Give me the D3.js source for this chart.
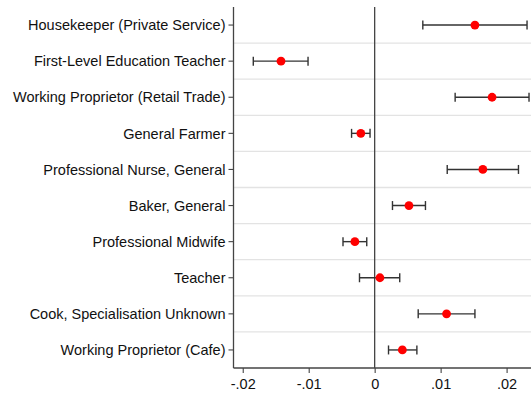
<!DOCTYPE html>
<html>
<head>
<meta charset="utf-8">
<script src="https://cdn.jsdelivr.net/npm/d3@7"></script>
<style>
  html, body { margin: 0; padding: 0; background: #fff; }
  svg { display: block; font-family: "Liberation Sans", Arial, Helvetica, sans-serif; }
</style>
</head>
<body>
<svg id="chart" width="531" height="399"></svg>
<script>
// Occupations, top to bottom
const occupations = [
  "Housekeeper (Private Service)",
  "First-Level Education Teacher",
  "Working Proprietor (Retail Trade)",
  "General Farmer",
  "Professional Nurse, General",
  "Baker, General",
  "Professional Midwife",
  "Teacher",
  "Cook, Specialisation Unknown",
  "Working Proprietor (Cafe)"
];
// Point estimates and confidence bounds
const estimates = [0.0152, -0.0142, 0.0178, -0.0021, 0.0164, 0.0052, -0.0030, 0.0008, 0.0109, 0.0042];
const lowerCI   = [0.0073, -0.0184, 0.0122, -0.0035, 0.0110, 0.0027, -0.0048, -0.0023, 0.0066, 0.0021];
const upperCI   = [0.0231, -0.0101, 0.0234, -0.0007, 0.0218, 0.0077, -0.0012, 0.0038, 0.0152, 0.0064];
const xTicks = [-0.02, -0.01, 0, 0.01, 0.02];
const xTickLabels = ["-.02", "-.01", "0", ".01", ".02"];

const svg = d3.select("#chart");
const plotLeft = 233.5, plotRight = 531, plotTop = 7, plotBottom = 368;

const x = d3.scaleLinear().domain([-0.0214, 0.0237]).range([plotLeft, plotRight]);
const y = d3.scaleBand().domain(occupations).range([plotTop, plotBottom]);

const rows = occupations.map((name, i) => ({
  name, est: estimates[i], lo: lowerCI[i], hi: upperCI[i]
}));

// Row separators
svg.append("g")
  .selectAll("line")
  .data(occupations.slice(1))
  .join("line")
  .attr("x1", plotLeft).attr("x2", plotRight)
  .attr("y1", d => y(d)).attr("y2", d => y(d))
  .attr("stroke", "#e3e3e3").attr("stroke-width", 1.3);

// Zero reference line
svg.append("line")
  .attr("x1", x(0)).attr("x2", x(0))
  .attr("y1", plotTop).attr("y2", plotBottom)
  .attr("stroke", "#444").attr("stroke-width", 1.3);

// Axes
const yAxis = d3.axisLeft(y).tickSize(5).tickPadding(3);
const gy = svg.append("g").attr("transform", `translate(${plotLeft},0)`).call(yAxis);
gy.select(".domain").attr("d", `M0,${plotTop}V${plotBottom}`).attr("stroke", "#444").attr("stroke-width", 1.3);
gy.selectAll(".tick line").attr("stroke", "#444").attr("stroke-width", 1.1);
gy.selectAll(".tick text").attr("font-size", 14.5).attr("fill", "#111").attr("dy", "0.36em");
gy.attr("font-family", null);

const xAxis = d3.axisBottom(x).tickValues(xTicks)
  .tickFormat((d, i) => xTickLabels[i]).tickSize(5).tickPadding(6);
const gx = svg.append("g").attr("transform", `translate(0,${plotBottom})`).call(xAxis);
gx.select(".domain").attr("d", `M${plotLeft},0H${plotRight}`).attr("stroke", "#444").attr("stroke-width", 1.3);
gx.selectAll(".tick line").attr("stroke", "#444").attr("stroke-width", 1.1);
gx.selectAll(".tick text").attr("font-size", 14.5).attr("fill", "#111");
gx.attr("font-family", null);

// Confidence intervals
const ci = svg.append("g").attr("stroke", "#333").attr("stroke-width", 1.4).attr("fill", "none");
const cy = d => y(d.name) + y.bandwidth() / 2;
ci.selectAll("line.bar").data(rows).join("line").attr("class", "bar")
  .attr("x1", d => x(d.lo)).attr("x2", d => x(d.hi))
  .attr("y1", cy).attr("y2", cy);
ci.selectAll("line.lo").data(rows).join("line").attr("class", "lo")
  .attr("x1", d => x(d.lo)).attr("x2", d => x(d.lo))
  .attr("y1", d => cy(d) - 4.5).attr("y2", d => cy(d) + 4.5);
ci.selectAll("line.hi").data(rows).join("line").attr("class", "hi")
  .attr("x1", d => x(d.hi)).attr("x2", d => x(d.hi))
  .attr("y1", d => cy(d) - 4.5).attr("y2", d => cy(d) + 4.5);

// Point estimates
svg.append("g").selectAll("circle").data(rows).join("circle")
  .attr("cx", d => x(d.est)).attr("cy", cy).attr("r", 4.4)
  .attr("fill", "#ff0000");
</script>
</body>
</html>
